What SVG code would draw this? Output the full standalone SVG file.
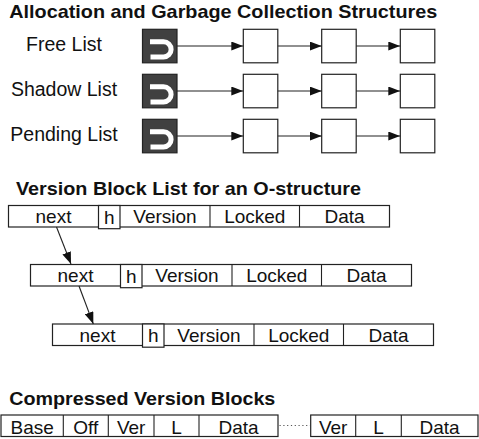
<svg xmlns="http://www.w3.org/2000/svg" width="479" height="439" viewBox="0 0 479 439">
  <defs>
    <marker id="arrow" viewBox="0 0 12 9" refX="12" refY="4.5" markerWidth="12" markerHeight="9" markerUnits="userSpaceOnUse" orient="auto">
      <path d="M0,0 L12,4.5 L0,9 Z" fill="#111"/>
    </marker>
    <g id="head">
      <rect x="0" y="0" width="34.5" height="33.5" class="headbox"/>
      <path d="M7.5,12.5 H21 A7.6,7.6 0 0 1 21,27.7 H8" class="hook"/>
    </g>
    <rect id="cell" x="0" y="0" width="34.5" height="33.5" class="box"/>
  </defs>
  <style>
    text { font-family: "Liberation Sans", Arial, Helvetica, sans-serif; fill: #111; }
    .title { font-weight: bold; font-size: 18.5px; }
    .lbl { font-size: 19.5px; text-anchor: middle; }
    .fld { font-size: 19px; text-anchor: middle; }
    .box { fill: #fff; stroke: #222; stroke-width: 1.2; }
    .headbox { fill: #404040; stroke: #222; stroke-width: 1.2; }
    .hook { fill: none; stroke: #fff; stroke-width: 5; stroke-linecap: butt; }
    .link { fill: none; stroke: #222; stroke-width: 1.1; }
    .dots { fill: none; stroke: #555; stroke-width: 1.2; stroke-dasharray: 1.2 2.6; }
  </style>

  <!-- Section titles -->
  <text class="title" x="9.3" y="17.5" textLength="428" lengthAdjust="spacingAndGlyphs">Allocation and Garbage Collection Structures</text>
  <text class="title" x="16" y="195" textLength="345" lengthAdjust="spacingAndGlyphs">Version Block List for an O-structure</text>
  <text class="title" x="9.3" y="405" textLength="266" lengthAdjust="spacingAndGlyphs">Compressed Version Blocks</text>

  <!-- Free / shadow / pending lists -->
  <g id="free-list" transform="translate(0,0)">
    <text class="lbl" x="64" y="50.5">Free List</text>
    <use href="#head" x="142.5" y="29.3"/>
    <use href="#cell" x="243.3" y="29.3"/>
    <use href="#cell" x="321.7" y="29.3"/>
    <use href="#cell" x="400.3" y="29.3"/>
  </g>
  <g id="shadow-list" transform="translate(0,45)">
    <text class="lbl" x="64" y="50.5">Shadow List</text>
    <use href="#head" x="142.5" y="29.3"/>
    <use href="#cell" x="243.3" y="29.3"/>
    <use href="#cell" x="321.7" y="29.3"/>
    <use href="#cell" x="400.3" y="29.3"/>
  </g>
  <g id="pending-list" transform="translate(0,90)">
    <text class="lbl" x="64" y="50.5">Pending List</text>
    <use href="#head" x="142.5" y="29.3"/>
    <use href="#cell" x="243.3" y="29.3"/>
    <use href="#cell" x="321.7" y="29.3"/>
    <use href="#cell" x="400.3" y="29.3"/>
  </g>

  <!-- Version block list -->
  <g id="vblock-1" transform="translate(8.5,205.5)">
    <rect class="box" x="0" y="0" width="381" height="21.5"/>
    <line class="link" x1="201.5" y1="0" x2="201.5" y2="21.5"/>
    <line class="link" x1="291" y1="0" x2="291" y2="21.5"/>
    <rect class="box" x="90" y="0" width="21.5" height="23.2"/>
    <text class="fld" x="45" y="17.7">next</text>
    <text class="fld" x="100.8" y="18">h</text>
    <text class="fld" x="156.5" y="17.7">Version</text>
    <text class="fld" x="246.3" y="17.7">Locked</text>
    <text class="fld" x="336" y="17.7">Data</text>
  </g>
  <g id="vblock-2" transform="translate(30.5,264.5)">
    <rect class="box" x="0" y="0" width="381" height="21.5"/>
    <line class="link" x1="201.5" y1="0" x2="201.5" y2="21.5"/>
    <line class="link" x1="291" y1="0" x2="291" y2="21.5"/>
    <rect class="box" x="90" y="0" width="21.5" height="23.2"/>
    <text class="fld" x="45" y="17.7">next</text>
    <text class="fld" x="100.8" y="18">h</text>
    <text class="fld" x="156.5" y="17.7">Version</text>
    <text class="fld" x="246.3" y="17.7">Locked</text>
    <text class="fld" x="336" y="17.7">Data</text>
  </g>
  <g id="vblock-3" transform="translate(52.5,324)">
    <rect class="box" x="0" y="0" width="381" height="21.5"/>
    <line class="link" x1="201.5" y1="0" x2="201.5" y2="21.5"/>
    <line class="link" x1="291" y1="0" x2="291" y2="21.5"/>
    <rect class="box" x="90" y="0" width="21.5" height="23.2"/>
    <text class="fld" x="45" y="17.7">next</text>
    <text class="fld" x="100.8" y="18">h</text>
    <text class="fld" x="156.5" y="17.7">Version</text>
    <text class="fld" x="246.3" y="17.7">Locked</text>
    <text class="fld" x="336" y="17.7">Data</text>
  </g>

  <!-- Compressed version blocks -->
  <g id="compressed-head">
    <rect class="box" x="1" y="415" width="277" height="21.5"/>
    <line class="link" x1="63.3" y1="415" x2="63.3" y2="436.5"/>
    <line class="link" x1="108.3" y1="415" x2="108.3" y2="436.5"/>
    <line class="link" x1="154" y1="415" x2="154" y2="436.5"/>
    <line class="link" x1="199" y1="415" x2="199" y2="436.5"/>
    <text class="fld" x="32.2" y="433.5">Base</text>
    <text class="fld" x="85.8" y="433.5">Off</text>
    <text class="fld" x="131.2" y="433.5">Ver</text>
    <text class="fld" x="176.5" y="433.5">L</text>
    <text class="fld" x="238.5" y="433.5">Data</text>
  </g>
  <g id="compressed-tail">
    <rect class="box" x="310.7" y="415" width="167.3" height="21.5"/>
    <line class="link" x1="355.7" y1="415" x2="355.7" y2="436.5"/>
    <line class="link" x1="401.3" y1="415" x2="401.3" y2="436.5"/>
    <text class="fld" x="333.2" y="433.5">Ver</text>
    <text class="fld" x="378.5" y="433.5">L</text>
    <text class="fld" x="439.6" y="433.5">Data</text>
  </g>

  <!-- Connectors -->
  <g id="connectors">
    <line class="link" x1="177" y1="46" x2="243.3" y2="46" marker-end="url(#arrow)"/>
    <line class="link" x1="277.8" y1="46" x2="321.7" y2="46" marker-end="url(#arrow)"/>
    <line class="link" x1="356.2" y1="46" x2="400.3" y2="46" marker-end="url(#arrow)"/>
    <line class="link" x1="177" y1="91" x2="243.3" y2="91" marker-end="url(#arrow)"/>
    <line class="link" x1="277.8" y1="91" x2="321.7" y2="91" marker-end="url(#arrow)"/>
    <line class="link" x1="356.2" y1="91" x2="400.3" y2="91" marker-end="url(#arrow)"/>
    <line class="link" x1="177" y1="136" x2="243.3" y2="136" marker-end="url(#arrow)"/>
    <line class="link" x1="277.8" y1="136" x2="321.7" y2="136" marker-end="url(#arrow)"/>
    <line class="link" x1="356.2" y1="136" x2="400.3" y2="136" marker-end="url(#arrow)"/>
    <line class="link" x1="56.5" y1="227" x2="71" y2="264" marker-end="url(#arrow)"/>
    <line class="link" x1="79" y1="286" x2="93.3" y2="324" marker-end="url(#arrow)"/>
    <line class="dots" x1="279.5" y1="425.5" x2="310" y2="425.5"/>
  </g>
</svg>
